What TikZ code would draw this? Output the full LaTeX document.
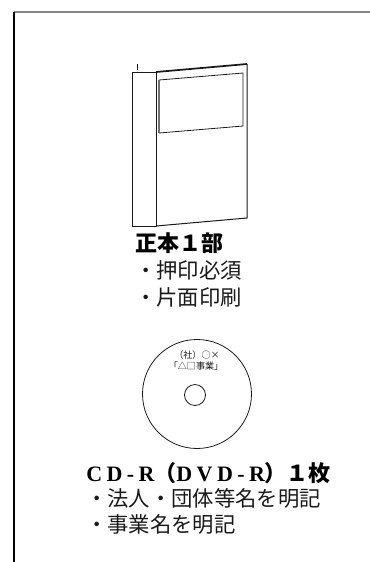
\documentclass[tikz,border=0pt]{standalone}
\usepackage{fontspec}
\usepackage{tikz}
\usetikzlibrary{positioning}
\newfontfamily\jpfont{Noto Sans CJK JP}
\newfontfamily\latfont{Liberation Serif}
\definecolor{ink}     {HTML}{1A1A1A}
\definecolor{rulegray}{HTML}{858585}
\definecolor{wingray} {HTML}{707070}
\newcommand\wideltr[1]{{\latfont\bfseries\addfontfeature{LetterSpace=20}#1}}
\tikzset{
  outline/.style = {draw=ink, line width=0.75pt, line join=miter},
  thin/.style    = {draw=ink, line width=0.6pt},
  head/.style    = {font=\jpfont\bfseries\fontsize{16.5pt}{20pt}\selectfont,
                    text=black, anchor=west, inner sep=0pt},
  item/.style    = {font=\jpfont\fontsize{16pt}{20pt}\selectfont,
                    text=ink, anchor=west, inner sep=0pt},
  disclbl/.style = {font=\jpfont\fontsize{6.8pt}{8pt}\selectfont,
                    text=ink, inner sep=0pt},
}

\begin{document}
\begin{tikzpicture}[x=0.75pt, y=-0.75pt]
  \useasboundingbox (0,0) rectangle (370,562);
  \fill[white] (0,0) rectangle (370,562);

  % frame
  \draw[draw=rulegray, line width=1.1pt] (14,12) -- (370,12);
  \draw[draw=black, line width=0.8pt] (14,11.5) -- (14,562);

  % book
  \draw[outline] (132,72) rectangle (156,226);
  \draw[draw=ink, line width=1.3pt] (156,72) -- (247,64);
  \draw[outline] (247,64) -- (247,218) -- (156,226);
  \draw[thin] (159,80) -- (243,73) -- (243,126) -- (159,133);
  \draw[draw=wingray, line width=1.3pt] (159,80) -- (159,133);
  \draw[thin] (137,64) -- (137,70);

  % copy label
  \node[head] (copy)  at (135,243) {正本１部};
  \node[item] (seal)  at (135,270) {・押印必須};
  \node[item] (print) at (135,297) {・片面印刷};

  % disc
  \draw[thin] (197,394) circle (54.5);
  \draw[thin] (195,395) circle (10.5);
  \node[disclbl] (owner) at (197,355) {（社）○×};
  \node[disclbl] (title) at (196,366) {「△□事業」};

  % disc label
  \node[head] (media) at (86,473)
    {\wideltr{CD-R}（\wideltr{DVD-R}）１枚};
  \node[item] (corp) at (86,498) {・法人・団体等名を明記};
  \node[item] (proj) at (86,524) {・事業名を明記};
\end{tikzpicture}
\end{document}
